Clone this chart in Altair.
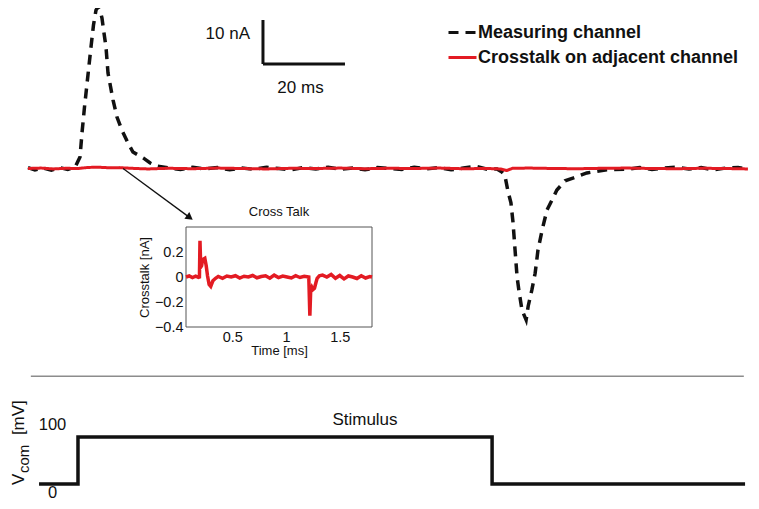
import altair as alt
import pandas as pd

RED = "#e31b23"
BLACK = "#111111"
FONT = "Liberation Sans"

SERIES = ["Measuring channel", "Crosstalk on adjacent channel"]

# ---- main traces: time [ms] (0 = stimulus onset), current [nA]
meas_t = [-12.2, -10.5, -8.5, -6.5, -4.5, -2.5, -0.7,
          0.49, 0.98, 1.59, 2.44, 3.17, 3.78, 4.39, 4.88, 5.37, 5.85, 6.34, 6.83, 7.32,
          8.54, 9.51, 10.7, 12.2, 13.4, 15.9, 17.6, 19.3, 22.4,
          25, 28, 31, 34, 37, 40, 43, 46, 49, 52, 55, 58, 61, 64, 67, 70, 73, 76, 79,
          82, 85, 88, 91, 94, 97, 100, 102.2,
          103.4, 104.1, 104.9, 105.6, 106.1, 106.6, 107.1, 107.6, 108.3, 109.3, 109.8,
          110.7, 111.5, 112.2, 113.2, 114.4, 115.6, 116.8, 118.8, 120.7, 124.1, 129.0, 134.6,
          137, 140, 143, 146, 149, 152, 155, 158, 161, 163.4]
meas_i = [0.2, -0.3, 0.1, -0.4, 0.2, -0.2, 0.3,
          2.6, 8.1, 14.0, 21.3, 27.6, 32.6, 36.0, 36.7, 36.0, 34.2, 30.8, 27.6, 21.7,
          15.6, 11.7, 8.75, 5.8, 3.75, 2.4, 1.25, 0.57, 0.1,
          -0.2, 0.3, -0.1, 0.2, -0.3, 0.1, -0.2, 0.3, 0.0, -0.3, 0.2, -0.1, 0.3, -0.2, 0.1,
          -0.3, 0.2, 0.0, -0.2, 0.3, -0.1, 0.2, -0.3, 0.1, 0.5, -0.2, -0.1,
          -0.8, -1.5, -5.3, -7.8, -12.2, -18.5, -24.7, -28.1, -32.2, -34.4, -31.3,
          -27.6, -23.8, -18.5, -14.0, -9.4, -7.2, -4.9, -2.8, -2.2, -1.0, -0.3, -0.1,
          0.2, -0.2, 0.1, 0.3, -0.1, 0.2, -0.3, 0.1, 0.2, -0.1]

xt_t = [-12.2, -9, -6, -3, 0, 2, 4, 6, 8, 10, 13, 17, 22, 28, 34, 40, 46, 52, 58, 64,
        70, 76, 82, 88, 94, 100, 103, 104.6, 106, 110, 116, 122, 128, 134, 140, 146,
        152, 158, 163.4]
xt_i = [0.0, 0.1, -0.1, 0.05, 0.0, 0.2, 0.3, 0.25, 0.15, 0.2, 0.05, -0.1, 0.05, -0.05,
        0.1, 0.0, -0.1, 0.05, 0.0, 0.1, -0.05, 0.05, 0.0, 0.1, -0.05, 0.0, -0.1, -0.45,
        0.05, 0.1, 0.0, -0.05, 0.05, 0.1, 0.0, -0.05, 0.05, 0.0, -0.1]

# ---- inset: crosstalk, time [ms], crosstalk [nA]
ins_t = [0.07, 0.10, 0.13, 0.16, 0.185, 0.195, 0.200, 0.207, 0.215, 0.225,
         0.245, 0.258, 0.270, 0.285, 0.300, 0.320, 0.345, 0.37, 0.41, 0.45,
         0.49, 0.53, 0.57, 0.61, 0.65, 0.69, 0.73, 0.77, 0.81, 0.85,
         0.89, 0.93, 0.97, 1.01, 1.05, 1.09, 1.13, 1.17, 1.212, 1.222,
         1.23, 1.24, 1.252, 1.265, 1.28, 1.29, 1.31, 1.34, 1.38, 1.42,
         1.46, 1.50, 1.54, 1.58, 1.62, 1.66, 1.70, 1.74, 1.78, 1.80]
ins_v = [0.0, 0.008, -0.005, 0.006, -0.003, 0.0, 0.29, 0.08, 0.09, 0.14,
         0.15, 0.09, 0.01, -0.06, -0.075, -0.03, -0.01, 0.005, -0.01, 0.008,
         0.0, 0.01, -0.008, 0.006, 0.0, 0.012, -0.006, 0.004, 0.01, -0.01,
         0.015, -0.005, 0.008, 0.0, -0.008, 0.01, -0.004, 0.006, 0.0, -0.31,
         -0.1, -0.08, -0.1, -0.09, -0.04, -0.01, 0.01, 0.015, 0.0, 0.02,
         -0.01, 0.012, -0.015, 0.008, 0.0, -0.012, 0.01, -0.008, 0.004, 0.0]
ins_xticks = [0.5, 1, 1.5]
ins_yticks = [-0.4, -0.2, 0, 0.2]

# ---- stimulus: time [ms], command voltage [mV]
stim_t = [-9.5, 0, 0, 101, 101, 162.7]
stim_v = [0, 0, 100, 100, 0, 0]
stim_ticks = [0, 100]

# ---------------------------------------------------------------- scales
XD = [-17.07, 164.15]
YD = [-75.57, 36.48]


def XS():
    return alt.Scale(domain=XD, nice=False, zero=False)


def YS():
    return alt.Scale(domain=YD, nice=False, zero=False)


def SY():
    return alt.Scale(domain=[0, 100], range=[476, 429], nice=False, zero=False)


def IX():
    return alt.Scale(domain=[0.07, 1.8], range=[178, 364], nice=False, zero=False)


def IY():
    return alt.Scale(domain=[-0.4, 0.4], range=[319, 219], nice=False, zero=False)


one = pd.DataFrame({"k": [0]})


def xd(v, s=XS):
    return alt.XDatum(v, type="quantitative", scale=s(), axis=None)


def yd(v, s=YS):
    return alt.YDatum(v, type="quantitative", scale=s(), axis=None)


LEG = alt.Legend(title=None, orient="none", legendX=439, legendY=9,
                 symbolType="stroke", symbolSize=784, symbolStrokeWidth=3,
                 labelFont=FONT, labelFontSize=18, labelFontWeight="bold",
                 labelColor=BLACK, labelOffset=0, labelLimit=500, rowPadding=0, padding=0)
COLOR = alt.Color("series:N", scale=alt.Scale(domain=SERIES, range=[BLACK, RED]), legend=LEG)
DASH = alt.StrokeDash("series:N", scale=alt.Scale(domain=SERIES, range=[[10, 7], [1, 0]]), legend=LEG)

df_meas = pd.DataFrame({"t": meas_t, "i": meas_i, "series": SERIES[0]})
df_xt = pd.DataFrame({"t": xt_t, "i": xt_i, "series": SERIES[1]})
df_ins = pd.DataFrame({"t": ins_t, "v": ins_v})
df_stim = pd.DataFrame({"t": stim_t, "v": stim_v, "n": list(range(len(stim_t)))})

layers = []

# separator between panels
layers.append(alt.Chart(one).mark_rule(color="#8c8c8c", strokeWidth=1.5).encode(
    x=xd(-11.5), x2=alt.X2Datum(162.4), y=yd(-47.2)))

# main traces
layers.append(alt.Chart(df_meas).mark_line(strokeWidth=3.5).encode(
    x=alt.X("t:Q", scale=XS(), axis=None), y=alt.Y("i:Q", scale=YS(), axis=None),
    color=COLOR, strokeDash=DASH))
layers.append(alt.Chart(df_xt).mark_line(strokeWidth=3).encode(
    x=alt.X("t:Q", scale=XS(), axis=None), y=alt.Y("i:Q", scale=YS(), axis=None),
    color=COLOR, strokeDash=DASH))

# scale bar
layers.append(alt.Chart(one).mark_rule(color=BLACK, strokeWidth=3).encode(
    x=xd(45.12), y=yd(23.75), y2=alt.Y2Datum(33.75)))
layers.append(alt.Chart(one).mark_rule(color=BLACK, strokeWidth=3).encode(
    x=xd(45.12), x2=alt.X2Datum(65.12), y=yd(23.75)))
layers.append(alt.Chart(one).mark_text(text="10 nA", align="right", baseline="middle",
                                       font=FONT, fontSize=17, color=BLACK).encode(
    x=xd(41.95), y=yd(30.57)))
layers.append(alt.Chart(one).mark_text(text="20 ms", align="center", baseline="middle",
                                       font=FONT, fontSize=17, color=BLACK).encode(
    x=xd(54.27), y=yd(18.3)))

# arrow to the inset
layers.append(alt.Chart(one).mark_rule(color=BLACK, strokeWidth=1.3).encode(
    x=xd(11.0), x2=alt.X2Datum(27.27), y=yd(0), y2=alt.Y2Datum(-11.16)))
layers.append(alt.Chart(one).mark_point(shape="triangle-right", angle=36, filled=True,
                                        size=70, color=BLACK, opacity=1).encode(
    x=xd(27.27), y=yd(-11.16)))

# ---------------------------------------------------------------- inset
AX_IN = alt.Axis(orient="bottom", offset=-174, values=ins_xticks, format="~g",
                 ticks=False, domain=False, grid=False, labelFont=FONT,
                 labelFontSize=14.5, labelColor=BLACK, labelPadding=3,
                 title="Time [ms]", titleFont=FONT, titleFontSize=13,
                 titleFontWeight="normal", titleColor=BLACK, titlePadding=1)
AY_IN = alt.Axis(orient="left", offset=-178, values=ins_yticks, format="~g",
                 ticks=False, domain=False, grid=False, labelFont=FONT,
                 labelFontSize=14.5, labelColor=BLACK, labelPadding=3,
                 title="Crosstalk [nA]", titleFont=FONT, titleFontSize=13,
                 titleFontWeight="normal", titleColor=BLACK, titlePadding=3)

layers.append(alt.Chart(one).mark_rect(fill="white", stroke="#555555", strokeWidth=1).encode(
    x=xd(0.07, IX), x2=alt.X2Datum(1.8), y=yd(-0.4, IY), y2=alt.Y2Datum(0.4)))
layers.append(alt.Chart(df_ins).mark_line(color=RED, strokeWidth=3.5).encode(
    x=alt.X("t:Q", scale=IX(), axis=AX_IN), y=alt.Y("v:Q", scale=IY(), axis=AY_IN)))
layers.append(alt.Chart(one).mark_text(text="Cross Talk", align="center", baseline="middle",
                                       dy=-15, font=FONT, fontSize=13, color=BLACK).encode(
    x=xd(0.935, IX), y=yd(0.4, IY)))

# ---------------------------------------------------------------- stimulus
AY_ST = alt.Axis(orient="left", offset=-44, values=stim_ticks, ticks=False,
                 domain=False, grid=False, labelAlign="center", labelBaseline="middle",
                 labelPadding=0, labelFont=FONT, labelFontSize=16.5, labelColor=BLACK,
                 labelOffset={"condition": {"test": "datum.value === 0", "value": 8},
                              "value": -13},
                 title=None)
layers.append(alt.Chart(df_stim).mark_line(color=BLACK, strokeWidth=3.5).encode(
    x=alt.X("t:Q", scale=XS(), axis=None), y=alt.Y("v:Q", scale=SY(), axis=AY_ST),
    order="n:Q"))
layers.append(alt.Chart(one).mark_text(text="Stimulus", align="center", baseline="middle",
                                       dy=-17, font=FONT, fontSize=17, color=BLACK).encode(
    x=xd(70.0), y=yd(100, SY)))
layers.append(alt.Chart(one).mark_text(text="V", angle=270, align="left", baseline="alphabetic",
                                       font=FONT, fontSize=17, color=BLACK).encode(
    x=xd(-13.17), y=yd(-2, SY)))
layers.append(alt.Chart(one).mark_text(text="com", angle=270, align="left", baseline="alphabetic",
                                       font=FONT, fontSize=15, color=BLACK).encode(
    x=xd(-11.95), y=yd(23.4, SY)))
layers.append(alt.Chart(one).mark_text(text="[mV]", angle=270, align="left", baseline="alphabetic",
                                       font=FONT, fontSize=17, color=BLACK).encode(
    x=xd(-13.17), y=yd(104, SY)))

chart = alt.layer(*layers).resolve_scale(
    x="independent", y="independent"
).properties(
    width=743, height=493, padding=0,
    autosize=alt.AutoSizeParams(type="none"),
).configure_view(stroke=None)

chart.save("out.html", embed_options={"renderer": "svg", "actions": False})
